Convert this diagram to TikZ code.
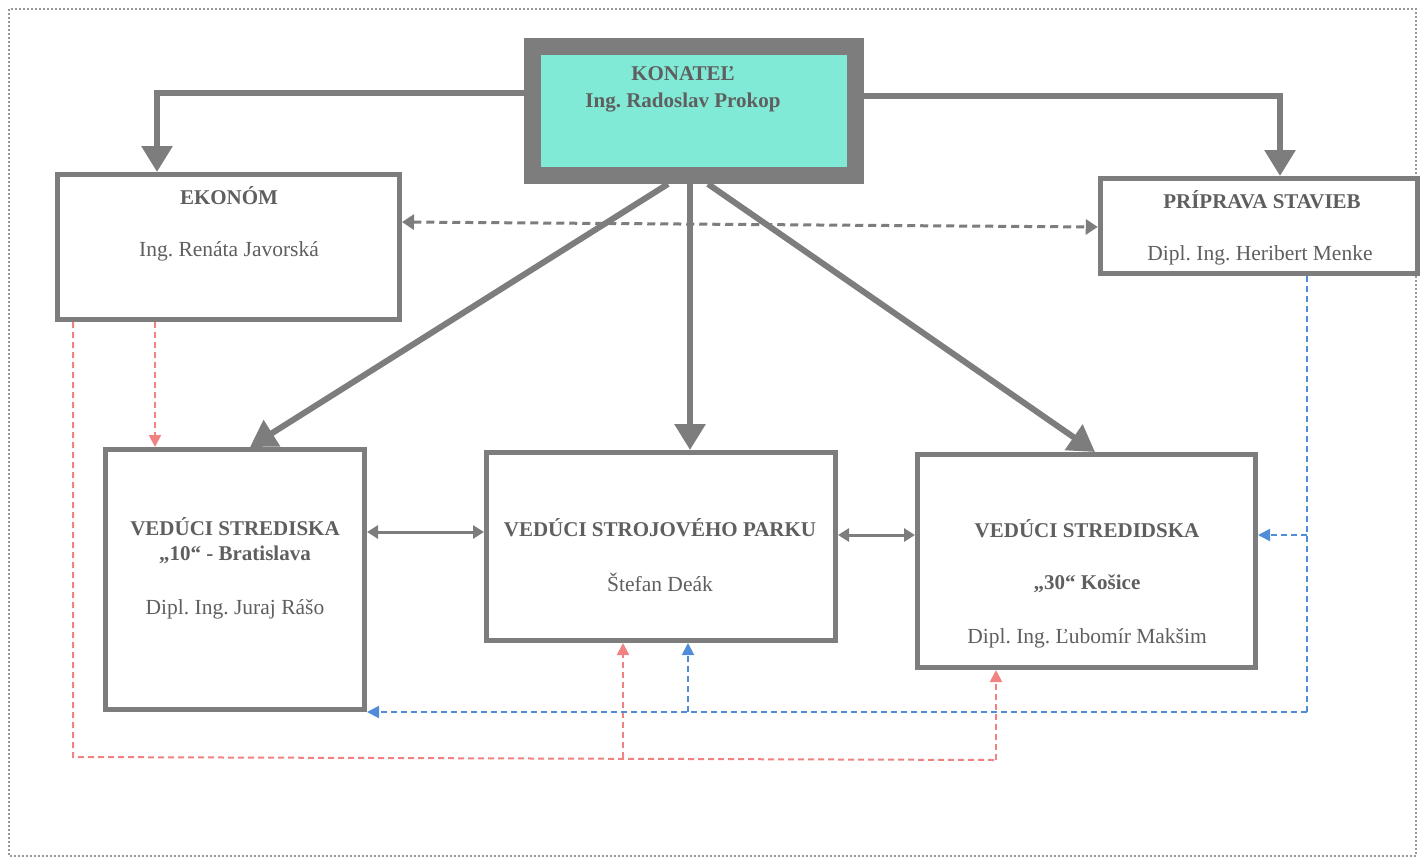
\documentclass[tikz,border=0pt]{standalone}
\usepackage{fontspec}
\setmainfont{Liberation Serif}
\frenchspacing
\usetikzlibrary{arrows.meta,calc}
\definecolor{frame}{RGB}{125,125,125}
\definecolor{txt}{RGB}{95,95,95}
\definecolor{teal}{RGB}{128,234,214}
\definecolor{redl}{RGB}{240,130,130}
\definecolor{bluel}{RGB}{80,140,215}
\tikzset{
  box/.style={draw=frame,line width=5pt,inner sep=0pt,fill=white},
  bold/.style={text=txt,font=\bfseries\fontsize{21}{24}\selectfont,inner sep=0pt},
  norm/.style={text=txt,font=\fontsize{21.5}{24}\selectfont,inner sep=0pt},
  conn/.style={draw=frame,line width=6pt,-{Triangle[width=30pt,length=26pt]}},
  dbl/.style={draw=frame,line width=3pt,{Triangle[width=13pt,length=11pt]}-{Triangle[width=13pt,length=11pt]}},
  gdash/.style={draw=frame,line width=3pt,dash pattern=on 8pt off 5pt,{Triangle[width=15pt,length=12pt]}-{Triangle[width=15pt,length=12pt]}},
  rdash/.style={draw=redl,line width=2pt,dash pattern=on 6pt off 4pt},
  bdash/.style={draw=bluel,line width=2pt,dash pattern=on 6pt off 4pt},
  tip/.style={-{Triangle[width=12pt,length=12pt]}}
}
\begin{document}
\begin{tikzpicture}[x=1pt,y=-1pt]
\useasboundingbox (0,0) rectangle (1421,860);
\draw[gray!80,line width=2pt,dotted] (9,9) rectangle (1416,856);

% boxes
\node[box,line width=17pt,fill=teal,minimum width=323pt,minimum height=129pt] (kon) at (694,111) {};
\node[box,minimum width=342pt,minimum height=145pt] (ek) at (228.5,247) {};
\node[box,minimum width=317.5pt,minimum height=95pt] (pr) at (1259,226) {};
\node[box,minimum width=259pt,minimum height=260pt] (b10) at (235,579.5) {};
\node[box,minimum width=349pt,minimum height=188pt] (bm) at (661,546.5) {};
\node[box,minimum width=338pt,minimum height=213pt] (b30) at (1086.5,561) {};

% texts
\node[bold] (t1) at (683,74) {KONATEĽ};
\node[bold] (t2) at (683,103) {Ing. Radoslav Prokop};
\node[bold] (t3) at (229,196) {EKONÓM};
\node[norm] (t4) at (229,251) {Ing. Renáta Javorská};
\node[bold] (t5) at (1262,200) {PRÍPRAVA STAVIEB};
\node[norm] (t6) at (1260,255) {Dipl. Ing. Heribert Menke};
\node[bold] (t7) at (235,527) {VEDÚCI STREDISKA};
\node[bold] (t8) at (235,555) {„10“ - Bratislava};
\node[norm] (t9) at (235,609) {Dipl. Ing. Juraj Rášo};
\node[bold] (t10) at (660,528) {VEDÚCI STROJOVÉHO PARKU};
\node[norm] (t11) at (660,582) {Štefan Deák};
\node[bold] (t12) at (1087,529) {VEDÚCI STREDIDSKA};
\node[bold] (t13) at (1087,584) {„30“ Košice};
\node[norm] (t14) at (1087,638) {Dipl. Ing. Ľubomír Makšim};

% helper coordinates
\coordinate (kL) at (157,93);
\coordinate (kR) at (1280,96);
\coordinate (hA) at (0,532);
\coordinate (hB) at (0,535);
\coordinate (r0) at (155,0);
\coordinate (r1) at (73,757);
\coordinate (r2) at (996,760);
\coordinate (r3) at (623,758);
\coordinate (bl1) at (1307,712);
\coordinate (bl2) at (688,712);
\coordinate (bl3) at (1307,535);

% main connectors
\draw[conn] (kon.west |- kL) -- (kL) -- (kL |- ek.north);
\draw[conn] (kon.east |- kR) -- (kR) -- (kR |- pr.north);
\draw[conn] ($(kon.south)+(-26,0)$) -- ($(b10.north)+(15,0)$);
\draw[conn] ($(kon.south)+(-4,0)$) -- ($(bm.north)+(29,0)$);
\draw[conn] ($(kon.south)+(14,0)$) -- ($(b30.north)+(8.5,0)$);

% dashed gray
\draw[gdash] ($(ek.east)+(0,-25)$) -- ($(pr.west)+(0,1)$);

% double arrows
\draw[dbl] (b10.east |- hA) -- (bm.west |- hA);
\draw[dbl] (bm.east |- hB) -- (b30.west |- hB);

% red dashed
\draw[rdash,tip] (ek.south -| r0) -- (b10.north -| r0);
\draw[rdash] (ek.south -| r1) -- (r1) -- (r2);
\draw[rdash,tip] (r2) -- (r2 |- b30.south);
\draw[rdash,tip] (r3) -- (r3 |- bm.south);

% blue dashed
\draw[bdash] (pr.south -| bl1) -- (bl1);
\draw[bdash,tip] (bl1) -- (b10.east |- bl1);
\draw[bdash,tip] (bl2) -- (bl2 |- bm.south);
\draw[bdash,tip] (bl3) -- (b30.east |- bl3);
\end{tikzpicture}
\end{document}
